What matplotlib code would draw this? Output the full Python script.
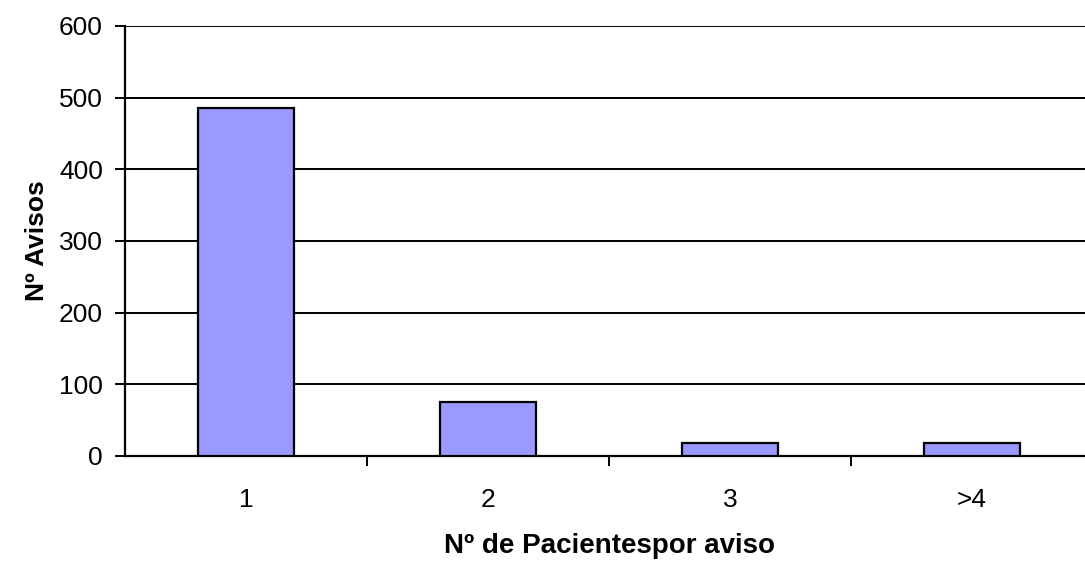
import matplotlib.pyplot as plt
import numpy as np

plt.rcParams['font.family'] = ['Liberation Sans', 'DejaVu Sans']

# Avisos agrupados por número de pacientes
categorias = ['1', '2', '3', '>4']
avisos = [485, 75, 18, 18]

fig = plt.figure(figsize=(10.85, 5.61), dpi=100)
ax = fig.add_axes([0.1152, 0.1872, 0.8922, 0.7665])

x = np.arange(len(categorias))
ax.bar(x, avisos, width=0.4, color='#9999FF', edgecolor='black', linewidth=1.6, zorder=3)

ax.set_xlim(-0.5, len(categorias) - 0.5)
ax.set_ylim(0, 600)
ax.set_yticks(range(0, 601, 100))
ax.yaxis.grid(True, color='black', linewidth=1.4, zorder=0)

ax.set_xticks(x)
ax.set_xticklabels(categorias)
ax.set_xticks(np.arange(0.5, len(categorias) - 0.5, 1), minor=True)
ax.tick_params(axis='x', which='major', length=0, pad=23, labelsize=19)
ax.tick_params(axis='x', which='minor', length=7, width=1.4, direction='out')
ax.tick_params(axis='y', length=7, width=1.4, direction='out', pad=9, labelsize=19)

for side in ['top', 'right']:
    ax.spines[side].set_visible(False)
for side in ['left', 'bottom']:
    ax.spines[side].set_linewidth(1.6)

ax.set_xlabel('Nº de Pacientespor aviso', fontsize=20, fontweight='bold', labelpad=15)
ax.set_ylabel('Nº Avisos', fontsize=19, fontweight='bold', labelpad=7)

fig.savefig('out.png', dpi=100)
